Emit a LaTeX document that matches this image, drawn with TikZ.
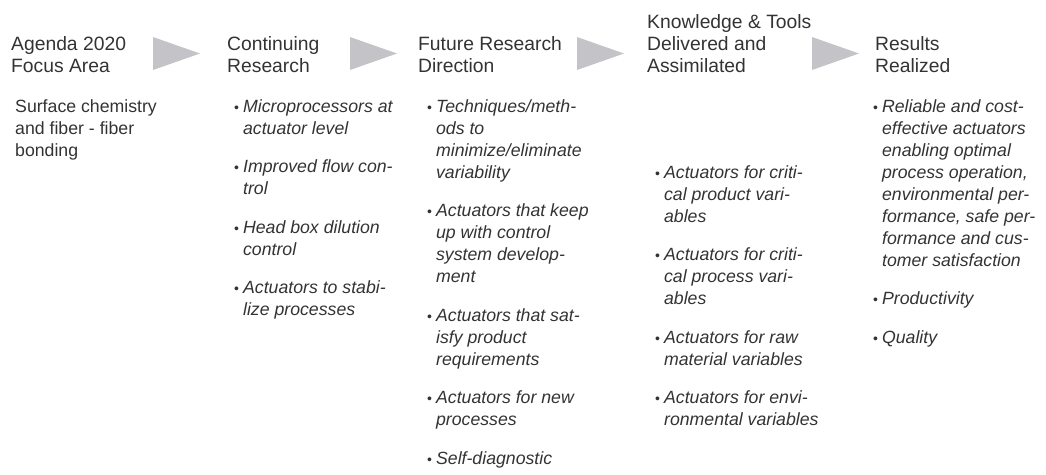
\documentclass[tikz,border=0pt]{standalone}
\usepackage{fontspec}
\usepackage{array}
\setmainfont{Liberation Sans}
\definecolor{textgray}{RGB}{51,51,51}
\definecolor{arrowgray}{RGB}{196,196,200}
\newcommand{\bul}{{\fontsize{14}{14}\selectfont\textbullet}}

\begin{document}
\begin{tikzpicture}[x=1pt,y=-1pt,
    head/.style={anchor=base west,inner sep=0pt,text=textgray,font=\fontsize{19.3}{22}\selectfont},
    body/.style={anchor=base west,inner sep=0pt,text=textgray,font=\fontsize{17.7}{22}\selectfont}]

    \useasboundingbox (0,0) rectangle (1046,474);

    % headings
    \node (agenda) [head] at (11,72) {\begin{tabular}[b]{@{}l@{}}Agenda 2020\\Focus Area\end{tabular}};
    \node (continuing) [head] at (227,72) {\begin{tabular}[b]{@{}l@{}}Continuing\\Research\end{tabular}};
    \node (future) [head] at (418,72) {\begin{tabular}[b]{@{}l@{}}Future Research\\Direction\end{tabular}};
    \node (knowledge) [head] at (647,72) {\begin{tabular}[b]{@{}l@{}}Knowledge \& Tools\\Delivered and\\Assimilated\end{tabular}};
    \node (results) [head] at (875,72) {\begin{tabular}[b]{@{}l@{}}Results\\Realized\end{tabular}};

    % grey pointers
    \foreach \x in {153,350,577,812}
        \fill[arrowgray] (\x,37) -- ++(47,16.5) -- ++(-47,16.5) -- cycle;

    \node (focus) [body] at (15,112) {\begin{tabular}[t]{@{}l@{}}
        Surface chemistry\\
        and fiber - fiber\\
        bonding
    \end{tabular}};

    \node (contlist) [body] at (234,112) {\begin{tabular}[t]{@{}l@{\hspace{4pt}}>{\itshape}l@{}}
        \bul & Microprocessors at\\
             & actuator level\\[16.5pt]
        \bul & Improved flow con-\\
             & trol\\[16.5pt]
        \bul & Head box dilution\\
             & control\\[16.5pt]
        \bul & Actuators to stabi-\\
             & lize processes
    \end{tabular}};

    \node (futlist) [body] at (427,112) {\begin{tabular}[t]{@{}l@{\hspace{4pt}}>{\itshape}l@{}}
        \bul & Techniques/meth-\\
             & ods to\\
             & minimize/eliminate\\
             & variability\\[16.5pt]
        \bul & Actuators that keep\\
             & up with control\\
             & system develop-\\
             & ment\\[16.5pt]
        \bul & Actuators that sat-\\
             & isfy product\\
             & requirements\\[16.5pt]
        \bul & Actuators for new\\
             & processes\\[16.5pt]
        \bul & Self-diagnostic
    \end{tabular}};

    \node (knowlist) [body] at (655,178) {\begin{tabular}[t]{@{}l@{\hspace{4pt}}>{\itshape}l@{}}
        \bul & Actuators for criti-\\
             & cal product vari-\\
             & ables\\[16.5pt]
        \bul & Actuators for criti-\\
             & cal process vari-\\
             & ables\\[16.5pt]
        \bul & Actuators for raw\\
             & material variables\\[16.5pt]
        \bul & Actuators for envi-\\
             & ronmental variables
    \end{tabular}};

    \node (reslist) [body] at (873,112) {\begin{tabular}[t]{@{}l@{\hspace{4pt}}>{\itshape}l@{}}
        \bul & Reliable and cost-\\
             & effective actuators\\
             & enabling optimal\\
             & process operation,\\
             & environmental per-\\
             & formance, safe per-\\
             & formance and cus-\\
             & tomer satisfaction\\[16.5pt]
        \bul & Productivity\\[16.5pt]
        \bul & Quality
    \end{tabular}};

\end{tikzpicture}
\end{document}
